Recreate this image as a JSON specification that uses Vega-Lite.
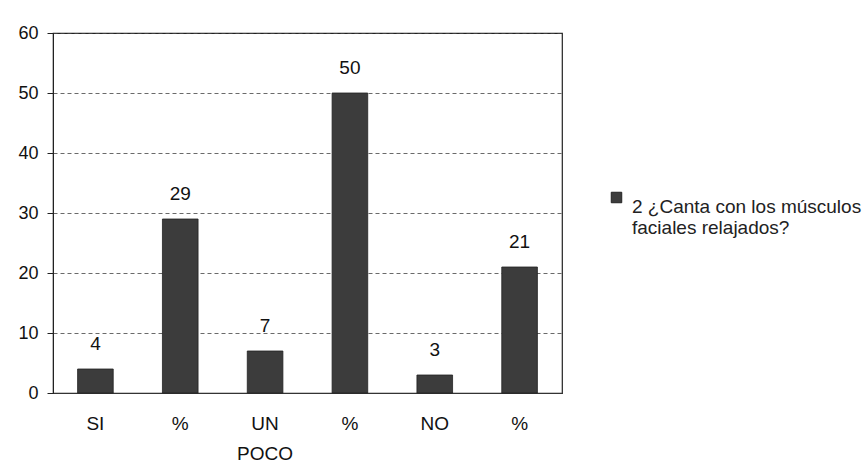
{
  "$schema": "https://vega.github.io/schema/vega-lite/v6.json",
  "autosize": "none",
  "width": 509,
  "height": 360,
  "padding": {"left": 53, "top": 33, "right": 304, "bottom": 81},
  "background": "white",
  "config": {
    "font": "Liberation Sans",
    "view": {"stroke": "#222", "strokeWidth": 1.2}
  },
  "data": {
    "values": [
      {"cat": "SI", "value": 4, "serie": "2 ¿Canta con los músculos faciales relajados?"},
      {"cat": "%1", "value": 29, "serie": "2 ¿Canta con los músculos faciales relajados?"},
      {"cat": "UN POCO", "value": 7, "serie": "2 ¿Canta con los músculos faciales relajados?"},
      {"cat": "%2", "value": 50, "serie": "2 ¿Canta con los músculos faciales relajados?"},
      {"cat": "NO", "value": 3, "serie": "2 ¿Canta con los músculos faciales relajados?"},
      {"cat": "%3", "value": 21, "serie": "2 ¿Canta con los músculos faciales relajados?"}
    ]
  },
  "encoding": {
    "x": {
      "field": "cat",
      "type": "nominal",
      "sort": null,
      "scale": {"paddingInner": 0.58, "paddingOuter": 0.29},
      "axis": {
        "title": null,
        "labelAngle": 0,
        "labelFontSize": 19,
        "labelColor": "#111",
        "labelPadding": 21,
        "labelLineHeight": 30,
        "labelExpr": "indexof(datum.value,'%')==0 ? '%' : datum.value=='UN POCO' ? ['UN','POCO'] : datum.value",
        "domainColor": "#333",
        "ticks": false,
        "grid": false
      }
    },
    "y": {
      "field": "value",
      "type": "quantitative",
      "scale": {"domain": [0, 60], "nice": false},
      "axis": {
        "title": null,
        "values": [0, 10, 20, 30, 40, 50, 60],
        "labelFontSize": 18,
        "labelColor": "#111",
        "labelPadding": 9,
        "tickSize": 6,
        "tickColor": "#222",
        "domainColor": "#222",
        "gridColor": "#444",
        "gridDash": [4, 3],
        "gridWidth": 0.8
      }
    }
  },
  "layer": [
    {
      "mark": {"type": "bar", "stroke": "#222", "strokeWidth": 0.8},
      "encoding": {
        "color": {
          "field": "serie",
          "type": "nominal",
          "scale": {"range": ["#3c3c3c"]},
          "legend": {
            "title": null,
            "orient": "none",
            "legendX": 554,
            "legendY": 155,
            "symbolType": "square",
            "symbolSize": 110,
            "symbolStrokeColor": "#222",
            "symbolStrokeWidth": 1,
            "labelFontSize": 19,
            "labelColor": "#222",
            "labelLineHeight": 27,
            "labelLimit": 400,
            "labelOffset": 6,
            "labelBaseline": "top",
            "labelExpr": "['2 ¿Canta con los músculos', 'faciales relajados?']"
          }
        }
      }
    },
    {
      "mark": {"type": "text", "baseline": "bottom", "dy": -15, "fontSize": 19, "color": "#111"},
      "encoding": {"text": {"field": "value", "type": "quantitative"}}
    }
  ]
}
